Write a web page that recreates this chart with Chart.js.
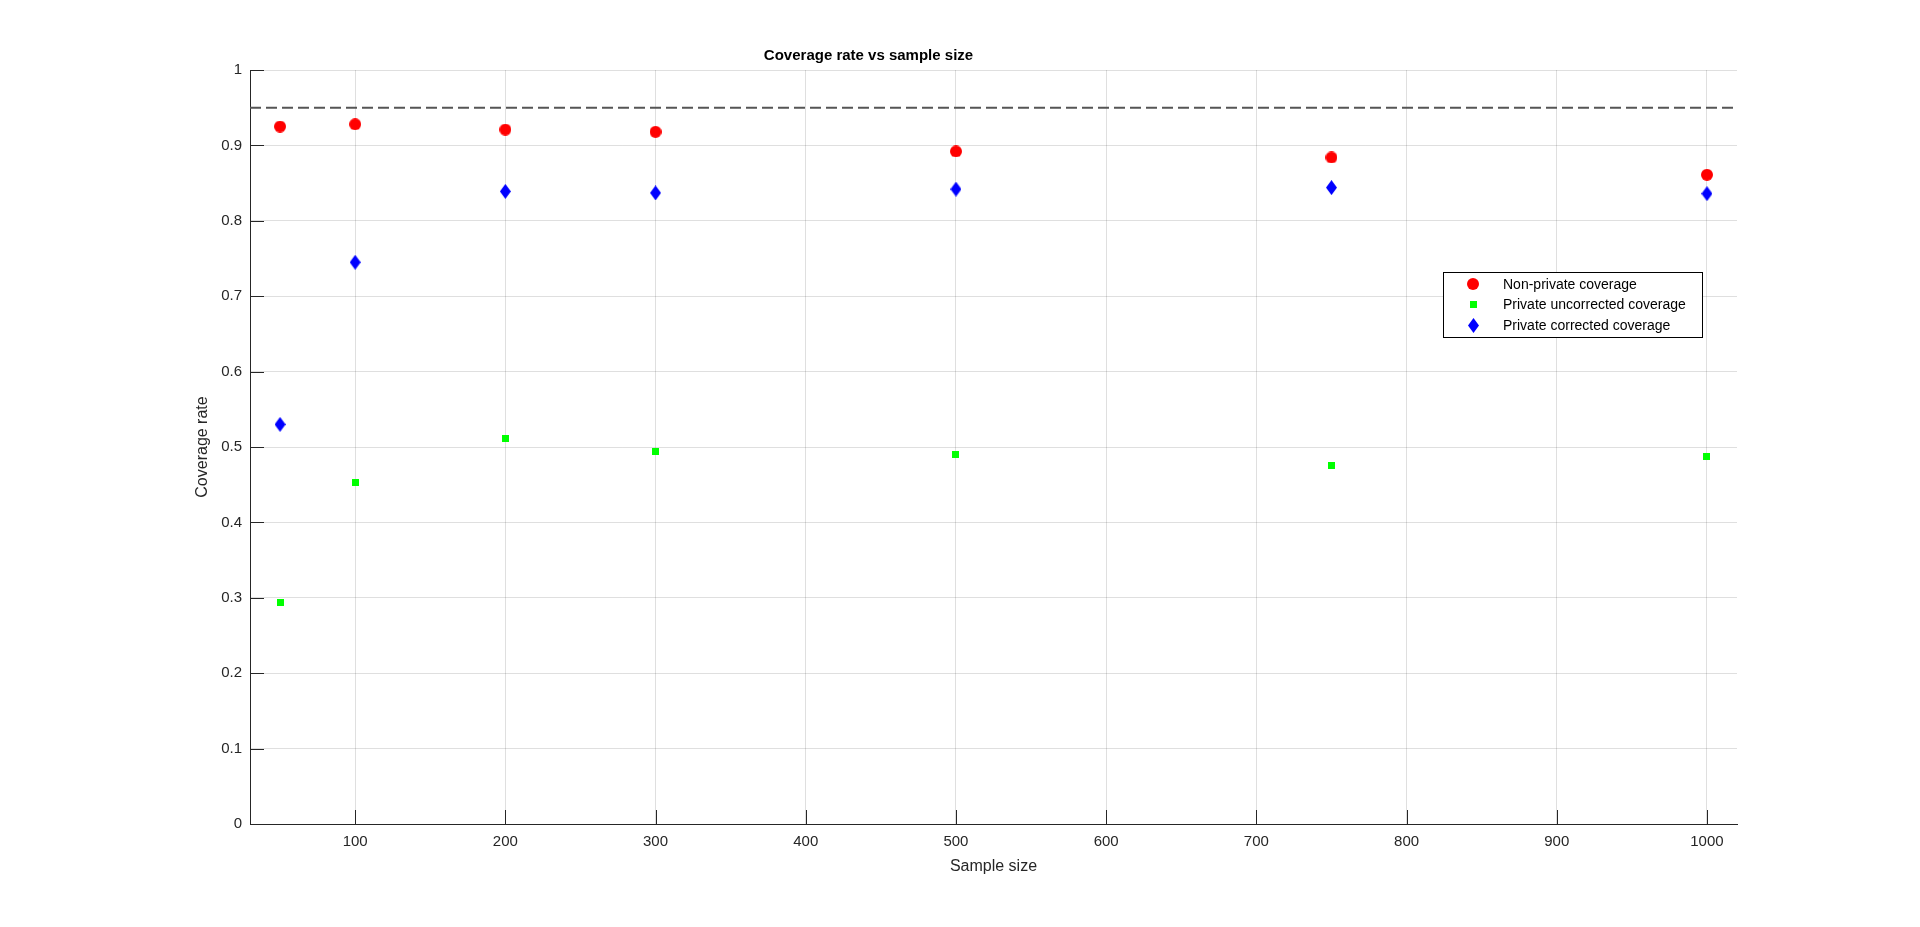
<!DOCTYPE html>
<html>
<head>
<meta charset="utf-8">
<script src="https://cdn.jsdelivr.net/npm/chart.js@4.4.1/dist/chart.umd.min.js"></script>
<style>
html,body{margin:0;padding:0;background:#ffffff;overflow:hidden}
#wrap{width:1920px;height:927px;position:relative}
</style>
</head>
<body>
<div id="wrap"><canvas id="c" width="1920" height="927"></canvas></div>
<script>
// ---- data ----
const sampleSizes = [50, 100, 200, 300, 500, 750, 1000];
const nonPrivateCoverage = [0.925, 0.928, 0.921, 0.918, 0.892, 0.884, 0.861];
const privateUncorrectedCoverage = [0.294, 0.453, 0.511, 0.494, 0.490, 0.476, 0.487];
const privateCorrectedCoverage = [0.530, 0.745, 0.839, 0.837, 0.842, 0.844, 0.836];
const seriesLabels = ['Non-private coverage', 'Private uncorrected coverage', 'Private corrected coverage'];
const targetCoverage = 0.95;
const xRange = [30, 1020];
const yRange = [0, 1];
const xTickValues = [100, 200, 300, 400, 500, 600, 700, 800, 900, 1000];
const xTickLabels = ['100', '200', '300', '400', '500', '600', '700', '800', '900', '1000'];
const yTickValues = [0, 0.1, 0.2, 0.3, 0.4, 0.5, 0.6, 0.7, 0.8, 0.9, 1];
const yTickLabels = ['0', '0.1', '0.2', '0.3', '0.4', '0.5', '0.6', '0.7', '0.8', '0.9', '1'];
const chartTitle = 'Coverage rate vs sample size';
const xAxisTitle = 'Sample size';
const yAxisTitle = 'Coverage rate';

// ---- styling ----
const FONT = '"Liberation Sans", Arial, Helvetica, sans-serif';
const AXIS_COLOR = '#262626';
const GRID_COLOR = 'rgba(38,38,38,0.15)';

function makeMarker(w, h, color, shape) {
  const c = document.createElement('canvas');
  c.width = w; c.height = h;
  const g = c.getContext('2d');
  g.fillStyle = color;
  g.beginPath();
  if (shape === 'circle') {
    g.arc(w / 2, h / 2, w / 2, 0, Math.PI * 2);
  } else if (shape === 'square') {
    g.rect(0, 0, w, h);
  } else {
    g.moveTo(w / 2, 0); g.lineTo(w, h / 2); g.lineTo(w / 2, h); g.lineTo(0, h / 2); g.closePath();
  }
  g.fill();
  return c;
}
const redCircle = makeMarker(12, 12, '#ff0000', 'circle');
const greenSquare = makeMarker(7, 7, '#00ff00', 'square');
const blueDiamond = makeMarker(11, 15, '#0000ff', 'diamond');

const toPoints = ys => sampleSizes.map((x, i) => ({ x: x, y: ys[i] }));

const innerTicks = {
  id: 'innerTicks',
  afterDraw(chart) {
    const { ctx, chartArea: a, scales: { x, y } } = chart;
    ctx.save();
    ctx.strokeStyle = AXIS_COLOR;
    ctx.lineWidth = 1;
    ctx.beginPath();
    x.ticks.forEach(t => {
      const px = Math.round(x.getPixelForValue(t.value)) + 0.5;
      ctx.moveTo(px, a.bottom); ctx.lineTo(px, a.bottom - 14);
    });
    y.ticks.forEach(t => {
      const py = Math.round(y.getPixelForValue(t.value)) + 0.5;
      ctx.moveTo(a.left, py); ctx.lineTo(a.left + 14, py);
    });
    ctx.stroke();
    ctx.restore();
  }
};

const boxLegend = {
  id: 'boxLegend',
  afterDraw(chart) {
    const { ctx, chartArea: a } = chart;
    const left = a.right - 294, top = a.top + 202, w = 259, h = 65;
    ctx.save();
    ctx.fillStyle = '#ffffff';
    ctx.fillRect(left, top, w, h);
    ctx.strokeStyle = '#000000';
    ctx.lineWidth = 1;
    ctx.strokeRect(left + 0.5, top + 0.5, w, h);
    ctx.font = '14px ' + FONT;
    ctx.fillStyle = '#000000';
    ctx.textBaseline = 'middle';
    ctx.textAlign = 'left';
    const items = chart.data.datasets.filter(d => d.inLegend);
    items.forEach((d, i) => {
      const cy = top + 12 + i * 20.5;
      const img = d.pointStyle;
      ctx.drawImage(img, Math.round(left + 30 - img.width / 2), Math.round(cy - img.height / 2));
      ctx.fillText(d.label, left + 60, cy + 1);
    });
    ctx.restore();
  }
};

new Chart(document.getElementById('c'), {
  type: 'scatter',
  data: {
    datasets: [
      {
        type: 'line',
        label: 'target',
        data: [{ x: xRange[0], y: targetCoverage }, { x: xRange[1], y: targetCoverage }],
        borderColor: '#555555',
        borderWidth: 2,
        borderDash: [11, 5],
        pointRadius: 0,
        fill: false,
        order: 5
      },
      {
        label: seriesLabels[0], inLegend: true,
        data: toPoints(nonPrivateCoverage),
        pointStyle: redCircle, pointRadius: 6,
        backgroundColor: '#ff0000', borderColor: '#ff0000'
      },
      {
        label: seriesLabels[1], inLegend: true,
        data: toPoints(privateUncorrectedCoverage),
        pointStyle: greenSquare, pointRadius: 6,
        backgroundColor: '#00ff00', borderColor: '#00ff00'
      },
      {
        label: seriesLabels[2], inLegend: true,
        data: toPoints(privateCorrectedCoverage),
        pointStyle: blueDiamond, pointRadius: 6,
        backgroundColor: '#0000ff', borderColor: '#0000ff'
      }
    ]
  },
  options: {
    responsive: false,
    animation: false,
    devicePixelRatio: 1,
    layout: { padding: { left: 0, right: 183, top: 0, bottom: 0 } },
    plugins: {
      legend: { display: false },
      tooltip: { enabled: false },
      title: {
        display: true,
        text: chartTitle,
        color: '#000000',
        font: { family: FONT, size: 15, weight: 'bold' },
        padding: { top: 47, bottom: 5 }
      }
    },
    scales: {
      x: {
        type: 'linear',
        min: xRange[0], max: xRange[1],
        afterBuildTicks: s => { s.ticks = xTickValues.map(v => ({ value: v })); },
        afterFit: s => { s.height = 103; },
        grid: { color: GRID_COLOR, drawTicks: false },
        border: { display: true, color: AXIS_COLOR, width: 1 },
        ticks: {
          padding: 9, color: AXIS_COLOR, font: { family: FONT, size: 15 }, maxRotation: 0, autoSkip: false,
          callback: (v) => { const i = xTickValues.indexOf(v); return i >= 0 ? xTickLabels[i] : ''; }
        },
        title: { display: true, text: xAxisTitle, color: AXIS_COLOR, font: { family: FONT, size: 16 }, padding: { top: 0, bottom: 51 } }
      },
      y: {
        type: 'linear',
        min: yRange[0], max: yRange[1],
        afterBuildTicks: s => { s.ticks = yTickValues.map(v => ({ value: v })); },
        afterFit: s => { s.width = 250; },
        grid: { color: GRID_COLOR, drawTicks: false },
        border: { display: true, color: AXIS_COLOR, width: 1 },
        ticks: {
          padding: 8, color: AXIS_COLOR, font: { family: FONT, size: 15 }, autoSkip: false,
          callback: (v) => { const i = yTickValues.indexOf(v); return i >= 0 ? yTickLabels[i] : ''; }
        },
        title: { display: true, text: yAxisTitle, color: AXIS_COLOR, font: { family: FONT, size: 16 }, padding: { top: 193, bottom: 0 } }
      }
    }
  },
  plugins: [innerTicks, boxLegend]
});
</script>
</body>
</html>
